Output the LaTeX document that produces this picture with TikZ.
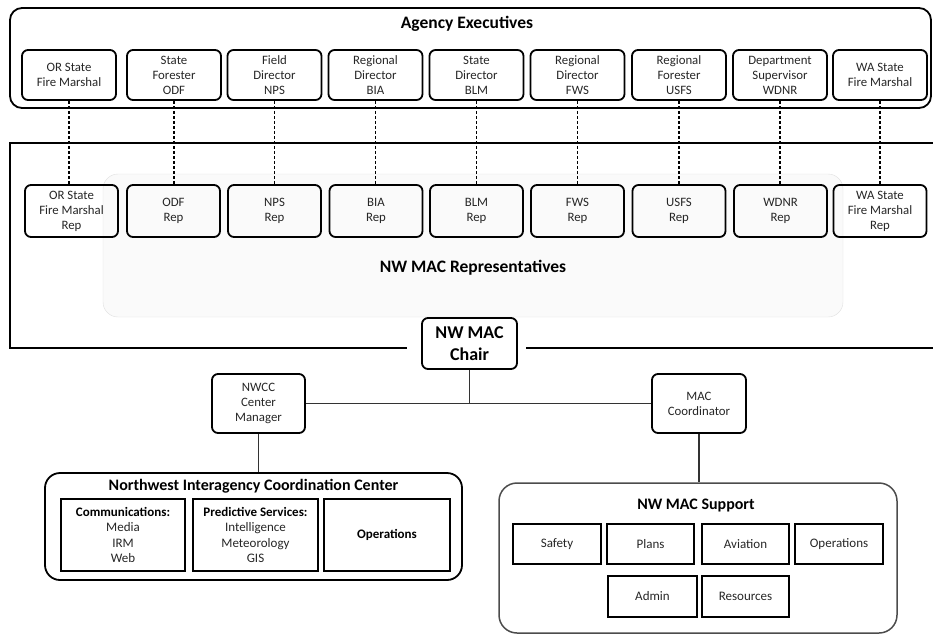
\documentclass[tikz,border=0pt]{standalone}
\usepackage{fontspec}
\setmainfont{Carlito}
\tikzset{
	execbox/.style={draw, rounded corners=6pt, line width=1.8pt, minimum width=94pt, minimum height=50pt, inner sep=1pt, align=center, text=black!85, font=\fontsize{12.8}{15}\selectfont},
	repbox/.style={execbox, minimum width=93pt, minimum height=52pt},
	unitbox/.style={draw, line width=1.8pt, inner sep=1pt, align=center, text=black!85, font=\fontsize{13}{15.3}\selectfont},
	grouptitle/.style={font=\bfseries\fontsize{16}{19}\selectfont},
	solidlink/.style={line width=1.5pt, black!80},
	dashlink/.style={line width=1.3pt, dash pattern=on 3pt off 2pt}
}

\begin{document}
\begin{tikzpicture}[x=1pt, y=-1pt]
	\useasboundingbox (0,0) rectangle (933,635);
	% agency executives
	\draw [line width=1.8pt, rounded corners=12pt] (10,8) rectangle (931,108);
	\node (agency) [grouptitle, font=\bfseries\fontsize{17.5}{20}\selectfont] at (467,24) {Agency Executives};
	\node (exOR) [execbox] at (69,75) {OR State\\Fire Marshal};
	\node (exODF) [execbox] at (174,75) {State\\Forester\\ODF};
	\node (exNPS) [execbox] at (274.5,75) {Field\\Director\\NPS};
	\node (exBIA) [execbox] at (375.5,75) {Regional\\Director\\BIA};
	\node (exBLM) [execbox] at (476.5,75) {State\\Director\\BLM};
	\node (exFWS) [execbox] at (577.5,75) {Regional\\Director\\FWS};
	\node (exUSFS) [execbox] at (679,75) {Regional\\Forester\\USFS};
	\node (exWDNR) [execbox] at (780,75) {Department\\Supervisor\\WDNR};
	\node (exWA) [execbox] at (880,75) {WA State\\Fire Marshal};
	% representatives
	\draw [line width=1.8pt] (933,143) -- (10,143) -- (10,348) -- (407,348);
	\draw [line width=1.8pt] (526,348) -- (933,348);
	\draw [draw=gray!25, fill=gray!4, rounded corners=15pt] (103,174) rectangle (843,317);
	\node (reps) [grouptitle, font=\bfseries\fontsize{17.5}{20}\selectfont] at (473,268) {NW MAC Representatives};
	\node (repOR) [repbox] at (71.5,211) {OR State\\Fire Marshal\\Rep};
	\node (repODF) [repbox] at (173.5,211) {ODF\\Rep};
	\node (repNPS) [repbox] at (274.5,211) {NPS\\Rep};
	\node (repBIA) [repbox] at (376,211) {BIA\\Rep};
	\node (repBLM) [repbox] at (476.5,211) {BLM\\Rep};
	\node (repFWS) [repbox] at (577.5,211) {FWS\\Rep};
	\node (repUSFS) [repbox] at (679,211) {USFS\\Rep};
	\node (repWDNR) [repbox] at (780.5,211) {WDNR\\Rep};
	\node (repWA) [repbox] at (880,211) {WA State\\Fire Marshal\\Rep};
	\draw [dashlink] (exOR.south) -- (exOR.south |- repOR.north);
	\draw [dashlink] (exODF.south) -- (exODF.south |- repODF.north);
	\draw [dashlink] (exNPS.south) -- (exNPS.south |- repNPS.north);
	\draw [dashlink] (exBIA.south) -- (exBIA.south |- repBIA.north);
	\draw [dashlink] (exBLM.south) -- (exBLM.south |- repBLM.north);
	\draw [dashlink] (exFWS.south) -- (exFWS.south |- repFWS.north);
	\draw [dashlink] (exUSFS.south) -- (exUSFS.south |- repUSFS.north);
	\draw [dashlink] (exWDNR.south) -- (exWDNR.south |- repWDNR.north);
	\draw [dashlink] (exWA.south) -- (exWA.south |- repWA.north);
	% chair and managers
	\node (chair) [execbox, minimum width=95pt, minimum height=51pt, text=black, font=\bfseries\fontsize{18}{21.5}\selectfont] at (469.5,343.5) {NW MAC\\Chair};
	\node (nwcc) [execbox, minimum width=93pt, minimum height=59pt] at (258.5,403.5) {NWCC\\Center\\Manager};
	\node (maccoord) [execbox, minimum height=59pt] at (699,403.5) {MAC\\Coordinator};
	\draw [solidlink] (nwcc.east) -- (maccoord.west);
	\draw [solidlink] (chair.south) -- (chair.south |- nwcc.east);
	% coordination center
	\node (nwic) [draw, line width=1.8pt, rounded corners=15pt, minimum width=417pt, minimum height=107pt] at (253.5,526.5) {};
	\node (nwictitle) [grouptitle, font=\bfseries\fontsize{16}{18}\selectfont] at (253.5,486) {Northwest Interagency Coordination Center};
	\node (comms) [unitbox, minimum width=124pt, minimum height=72pt] at (123,535) {\textbf{\color{black}Communications:}\\Media\\IRM\\Web};
	\node (predict) [unitbox, minimum width=125pt, minimum height=72pt] at (255.5,535) {\textbf{\color{black}Predictive Services:}\\Intelligence\\Meteorology\\GIS};
	\node (nwicops) [unitbox, minimum width=126pt, minimum height=72pt, text=black, font=\bfseries\fontsize{13}{15.3}\selectfont] at (387,535) {Operations};
	\draw [solidlink] (nwcc.south) -- (nwic.north -| nwcc.south);
	% mac support
	\node (support) [draw=black!70, line width=1.5pt, rounded corners=18pt, minimum width=398pt, minimum height=150pt] at (698,558) {};
	\node (supporttitle) [grouptitle, font=\bfseries\fontsize{16}{18}\selectfont] at (696,506) {NW MAC Support};
	\node (safety) [unitbox, minimum width=88pt, minimum height=40pt] at (557,544) {Safety};
	\node (plans) [unitbox, minimum width=87pt, minimum height=40pt] at (650.5,544) {Plans};
	\node (aviation) [unitbox, minimum width=87pt, minimum height=40pt] at (745.5,544) {Aviation};
	\node (supportops) [unitbox, minimum width=88pt, minimum height=40pt] at (839,544) {Operations};
	\node (admin) [unitbox, minimum width=89pt, minimum height=41pt] at (652.5,596.5) {Admin};
	\node (resources) [unitbox, minimum width=87pt, minimum height=41pt] at (745.5,596.5) {Resources};
	\draw [solidlink] (maccoord.south) -- (maccoord.south |- support.north);
\end{tikzpicture}
\end{document}
